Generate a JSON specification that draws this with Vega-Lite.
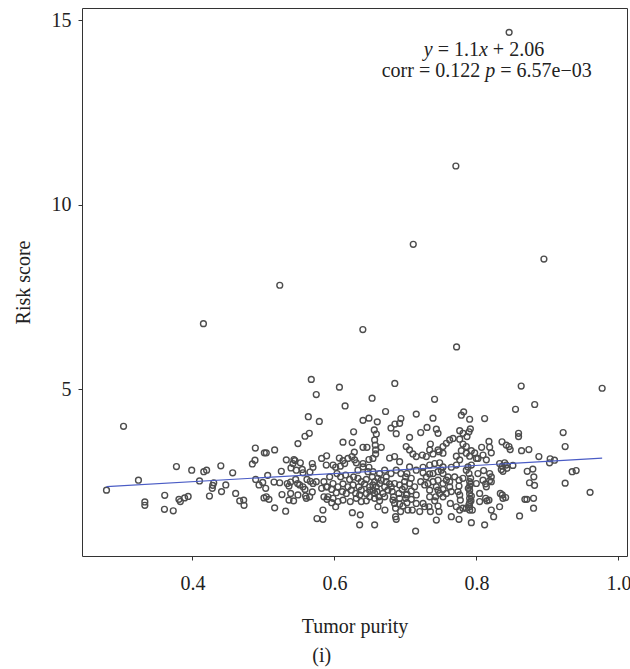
{
  "$schema": "https://vega.github.io/schema/vega-lite/v6.json",
  "width": 545,
  "height": 548,
  "autosize": {"type": "none"},
  "padding": {"left": 82, "top": 8, "right": 3, "bottom": 113},
  "background": "white",
  "config": {
    "view": {"stroke": "#333333", "strokeWidth": 1},
    "axis": {
      "labelFont": "Liberation Serif",
      "labelFontSize": 20,
      "labelColor": "#222222",
      "titleFont": "Liberation Serif",
      "titleFontSize": 20,
      "titleFontWeight": "normal",
      "titleColor": "#222222",
      "domain": false,
      "grid": false,
      "tickColor": "#333333",
      "tickSize": 4,
      "tickWidth": 1
    },
    "text": {"font": "Liberation Serif", "fontSize": 20, "color": "#222222"}
  },
  "datasets": {
    "pts": [
      {"purity":0.846,"risk":14.67},{"purity":0.771,"risk":11.05},{"purity":0.711,"risk":8.93},{"purity":0.895,"risk":8.53},{"purity":0.523,"risk":7.82},{"purity":0.4155,"risk":6.78},{"purity":0.640,"risk":6.62},{"purity":0.772,"risk":6.15},{"purity":0.977,"risk":5.03},{"purity":0.863,"risk":5.09},{"purity":0.685,"risk":5.16},{"purity":0.882,"risk":4.59},{"purity":0.855,"risk":4.46},{"purity":0.653,"risk":4.76},{"purity":0.741,"risk":4.73},{"purity":0.615,"risk":4.55},{"purity":0.607,"risk":5.06},
      {"purity":0.279,"risk":2.27},{"purity":0.303,"risk":4.0},{"purity":0.324,"risk":2.54},{"purity":0.333,"risk":1.95},{"purity":0.333,"risk":1.86},{"purity":0.361,"risk":2.13},{"purity":0.3606,"risk":1.75},{"purity":0.373,"risk":1.71},{"purity":0.3775,"risk":2.91},{"purity":0.381,"risk":2.02},{"purity":0.383,"risk":1.96},{"purity":0.389,"risk":2.06},{"purity":0.394,"risk":2.10},{"purity":0.399,"risk":2.81},{"purity":0.410,"risk":2.52},{"purity":0.416,"risk":2.77},{"purity":0.420,"risk":2.81},{"purity":0.424,"risk":2.11},{"purity":0.428,"risk":2.32},{"purity":0.4286,"risk":2.40},{"purity":0.430,"risk":2.47},{"purity":0.440,"risk":2.93},{"purity":0.441,"risk":2.23},{"purity":0.447,"risk":2.41},
      {"purity":0.5674,"risk":5.27},{"purity":0.5744,"risk":4.86},{"purity":0.5632,"risk":4.26},{"purity":0.5787,"risk":4.13},{"purity":0.5585,"risk":3.73},{"purity":0.5646,"risk":3.81},{"purity":0.5486,"risk":3.53},{"purity":0.4886,"risk":3.41},{"purity":0.5013,"risk":3.28},{"purity":0.504,"risk":3.28},{"purity":0.5158,"risk":3.36},{"purity":0.4844,"risk":2.98},{"purity":0.4881,"risk":3.08},{"purity":0.4567,"risk":2.74},{"purity":0.5322,"risk":3.09},{"purity":0.543,"risk":3.10},{"purity":0.5444,"risk":3.07},{"purity":0.5416,"risk":2.99},{"purity":0.552,"risk":3.01},{"purity":0.5388,"risk":2.87},{"purity":0.5547,"risk":2.83},{"purity":0.5557,"risk":2.74},{"purity":0.5688,"risk":2.99},{"purity":0.5698,"risk":2.89},{"purity":0.5655,"risk":2.76},{"purity":0.582,"risk":3.13},{"purity":0.589,"risk":3.20},{"purity":0.5885,"risk":2.95},{"purity":0.5252,"risk":2.78},{"purity":0.506,"risk":2.67},{"purity":0.4891,"risk":2.56},{"purity":0.499,"risk":2.48},{"purity":0.4938,"risk":2.41},{"purity":0.5149,"risk":2.49},{"purity":0.5229,"risk":2.47},{"purity":0.5336,"risk":2.45},{"purity":0.5383,"risk":2.49},{"purity":0.536,"risk":2.38},{"purity":0.5454,"risk":2.56},{"purity":0.5482,"risk":2.45},{"purity":0.551,"risk":2.41},{"purity":0.5613,"risk":2.56},{"purity":0.566,"risk":2.51},{"purity":0.5698,"risk":2.45},{"purity":0.5852,"risk":2.50},{"purity":0.5899,"risk":2.36},{"purity":0.4609,"risk":2.18},{"purity":0.4666,"risk":1.98},{"purity":0.4722,"risk":2.0},{"purity":0.4727,"risk":1.86},{"purity":0.5032,"risk":2.32},{"purity":0.5041,"risk":2.09},{"purity":0.5078,"risk":2.02},{"purity":0.5008,"risk":2.06},{"purity":0.5158,"risk":1.79},{"purity":0.5261,"risk":2.15},{"purity":0.5313,"risk":1.70},{"purity":0.5383,"risk":2.18},{"purity":0.536,"risk":2.0},{"purity":0.5425,"risk":1.98},{"purity":0.5486,"risk":2.14},{"purity":0.5594,"risk":2.11},{"purity":0.5604,"risk":2.05},{"purity":0.5585,"risk":2.29},{"purity":0.5688,"risk":2.22},{"purity":0.582,"risk":2.32},{"purity":0.5852,"risk":2.09},{"purity":0.5895,"risk":2.02},{"purity":0.5838,"risk":1.73},{"purity":0.5754,"risk":1.50},{"purity":0.5838,"risk":1.48},
      {"purity":0.5463,"risk":2.81},{"purity":0.5557,"risk":2.36},{"purity":0.5744,"risk":2.50},{"purity":0.5651,"risk":2.09},
      {"purity":0.672,"risk":4.40},{"purity":0.6402,"risk":4.16},{"purity":0.6486,"risk":4.22},{"purity":0.6603,"risk":4.12},{"purity":0.6796,"risk":3.95},{"purity":0.6852,"risk":4.06},{"purity":0.6918,"risk":4.08},{"purity":0.6936,"risk":4.21},{"purity":0.687,"risk":3.80},{"purity":0.627,"risk":3.85},{"purity":0.6561,"risk":3.90},{"purity":0.659,"risk":3.79},{"purity":0.7152,"risk":4.33},{"purity":0.7058,"risk":3.70},{"purity":0.612,"risk":3.57},{"purity":0.625,"risk":3.56},{"purity":0.6402,"risk":3.43},{"purity":0.6458,"risk":3.43},{"purity":0.6566,"risk":3.63},{"purity":0.6575,"risk":3.49},{"purity":0.658,"risk":3.36},{"purity":0.658,"risk":3.25},{"purity":0.666,"risk":3.43},{"purity":0.628,"risk":3.30},{"purity":0.6247,"risk":3.18},{"purity":0.6284,"risk":3.09},{"purity":0.6308,"risk":3.01},{"purity":0.6069,"risk":3.14},{"purity":0.612,"risk":3.07},{"purity":0.619,"risk":3.13},{"purity":0.598,"risk":2.95},{"purity":0.6017,"risk":2.89},{"purity":0.6083,"risk":2.92},{"purity":0.6144,"risk":2.99},{"purity":0.6402,"risk":2.99},{"purity":0.6486,"risk":3.10},{"purity":0.6542,"risk":3.13},{"purity":0.6402,"risk":2.90},{"purity":0.6486,"risk":2.89},{"purity":0.6777,"risk":3.14},{"purity":0.6847,"risk":3.18},{"purity":0.6918,"risk":3.04},{"purity":0.7011,"risk":3.45},{"purity":0.7058,"risk":3.36},{"purity":0.7105,"risk":3.25},{"purity":0.7152,"risk":3.18},{"purity":0.6707,"risk":2.81},{"purity":0.673,"risk":2.63},{"purity":0.6796,"risk":2.72},{"purity":0.687,"risk":2.81},{"purity":0.6936,"risk":2.72},{"purity":0.7002,"risk":2.63},{"purity":0.7058,"risk":2.90},{"purity":0.7152,"risk":2.81},{"purity":0.6036,"risk":2.72},{"purity":0.6087,"risk":2.63},{"purity":0.6158,"risk":2.68},{"purity":0.6214,"risk":2.56},{"purity":0.627,"risk":2.63},{"purity":0.6331,"risk":2.59},{"purity":0.6378,"risk":2.50},{"purity":0.6449,"risk":2.56},{"purity":0.6533,"risk":2.63},{"purity":0.6566,"risk":2.50},{"purity":0.6613,"risk":2.59},{"purity":0.666,"risk":2.54},{"purity":0.598,"risk":2.45},{"purity":0.605,"risk":2.36},{"purity":0.612,"risk":2.44},{"purity":0.619,"risk":2.36},{"purity":0.6261,"risk":2.41},{"purity":0.6345,"risk":2.36},{"purity":0.6425,"risk":2.44},{"purity":0.6496,"risk":2.36},{"purity":0.6542,"risk":2.41},{"purity":0.6589,"risk":2.36},{"purity":0.6636,"risk":2.45},{"purity":0.6707,"risk":2.36},{"purity":0.6777,"risk":2.44},{"purity":0.6847,"risk":2.45},{"purity":0.6918,"risk":2.41},{"purity":0.6988,"risk":2.36},{"purity":0.7058,"risk":2.45},{"purity":0.7129,"risk":2.36},{"purity":0.5961,"risk":2.29},{"purity":0.6026,"risk":2.20},{"purity":0.6111,"risk":2.23},{"purity":0.6167,"risk":2.18},{"purity":0.6238,"risk":2.27},{"purity":0.6299,"risk":2.18},{"purity":0.6378,"risk":2.27},{"purity":0.6449,"risk":2.18},{"purity":0.6496,"risk":2.26},{"purity":0.6566,"risk":2.18},{"purity":0.6627,"risk":2.09},{"purity":0.6683,"risk":2.18},{"purity":0.6753,"risk":2.27},{"purity":0.6814,"risk":2.23},{"purity":0.6833,"risk":2.09},{"purity":0.6908,"risk":2.18},{"purity":0.6955,"risk":2.29},{"purity":0.7021,"risk":2.16},{"purity":0.7082,"risk":2.25},{"purity":0.7152,"risk":2.14},{"purity":0.598,"risk":2.05},{"purity":0.605,"risk":1.96},{"purity":0.612,"risk":2.0},{"purity":0.6223,"risk":1.96},{"purity":0.6308,"risk":2.05},{"purity":0.6378,"risk":1.96},{"purity":0.6449,"risk":1.98},{"purity":0.6566,"risk":2.05},{"purity":0.6636,"risk":1.98},{"purity":0.6707,"risk":2.09},{"purity":0.6824,"risk":2.0},{"purity":0.6847,"risk":1.91},{"purity":0.6861,"risk":1.78},{"purity":0.687,"risk":1.48},{"purity":0.6861,"risk":1.55},{"purity":0.6918,"risk":1.89},{"purity":0.6964,"risk":1.84},{"purity":0.7021,"risk":1.93},{"purity":0.7082,"risk":2.02},{"purity":0.7152,"risk":1.91},{"purity":0.7096,"risk":1.73},{"purity":0.6017,"risk":1.82},{"purity":0.5961,"risk":1.93},{"purity":0.6252,"risk":1.66},{"purity":0.6364,"risk":1.60},{"purity":0.6355,"risk":1.33},{"purity":0.6566,"risk":1.33},{"purity":0.6613,"risk":1.82},{"purity":0.6711,"risk":1.73},{"purity":0.6932,"risk":1.69},{"purity":0.7035,"risk":1.73},{"purity":0.7143,"risk":1.16},{"purity":0.7011,"risk":2.14},
      {"purity":0.6331,"risk":2.81},{"purity":0.6472,"risk":2.77},{"purity":0.6542,"risk":2.77},{"purity":0.6636,"risk":2.72},{"purity":0.6355,"risk":2.14},{"purity":0.6496,"risk":2.09},{"purity":0.6599,"risk":2.23},{"purity":0.6542,"risk":2.27},{"purity":0.673,"risk":2.50},{"purity":0.6801,"risk":2.36},{"purity":0.7021,"risk":2.72},{"purity":0.7082,"risk":2.59},{"purity":0.6988,"risk":2.50},{"purity":0.6918,"risk":2.05},{"purity":0.7002,"risk":2.05},{"purity":0.5933,"risk":2.63},{"purity":0.5886,"risk":2.36},{"purity":0.5909,"risk":2.09},
      {"purity":0.7388,"risk":4.22},{"purity":0.7787,"risk":4.30},{"purity":0.782,"risk":4.39},{"purity":0.7904,"risk":4.19},{"purity":0.8115,"risk":4.21},{"purity":0.7304,"risk":3.97},{"purity":0.7435,"risk":3.92},{"purity":0.7459,"risk":3.81},{"purity":0.7215,"risk":3.83},{"purity":0.7351,"risk":3.52},{"purity":0.7341,"risk":3.36},{"purity":0.7459,"risk":3.36},{"purity":0.7529,"risk":3.45},{"purity":0.7576,"risk":3.54},{"purity":0.7623,"risk":3.63},{"purity":0.767,"risk":3.67},{"purity":0.7764,"risk":3.88},{"purity":0.781,"risk":3.81},{"purity":0.7867,"risk":3.72},{"purity":0.7914,"risk":3.93},{"purity":0.7895,"risk":3.85},{"purity":0.7764,"risk":3.65},{"purity":0.781,"risk":3.52},{"purity":0.7857,"risk":3.45},{"purity":0.7928,"risk":3.34},{"purity":0.7975,"risk":3.28},{"purity":0.7998,"risk":3.13},{"purity":0.8073,"risk":3.43},{"purity":0.8176,"risk":3.59},{"purity":0.8186,"risk":3.43},{"purity":0.8209,"risk":3.28},{"purity":0.836,"risk":3.58},{"purity":0.842,"risk":3.49},{"purity":0.8458,"risk":3.45},{"purity":0.7238,"risk":3.22},{"purity":0.7294,"risk":3.18},{"purity":0.7388,"risk":3.25},{"purity":0.7473,"risk":3.31},{"purity":0.7529,"risk":3.27},{"purity":0.7717,"risk":3.19},{"purity":0.7787,"risk":3.34},{"purity":0.7857,"risk":3.27},{"purity":0.7904,"risk":3.19},{"purity":0.8021,"risk":3.13},{"purity":0.8092,"risk":3.22},{"purity":0.8139,"risk":3.09},{"purity":0.7764,"risk":3.09},{"purity":0.7248,"risk":2.89},{"purity":0.7341,"risk":2.95},{"purity":0.7412,"risk":2.99},{"purity":0.7482,"risk":3.01},{"purity":0.7529,"risk":2.90},{"purity":0.7646,"risk":2.89},{"purity":0.7717,"risk":2.95},{"purity":0.7881,"risk":2.90},{"purity":0.7928,"risk":2.95},{"purity":0.8101,"risk":2.80},{"purity":0.8186,"risk":2.72},{"purity":0.8209,"risk":2.63},{"purity":0.8326,"risk":2.99},{"purity":0.8364,"risk":2.92},{"purity":0.8397,"risk":3.01},{"purity":0.842,"risk":2.95},{"purity":0.835,"risk":2.83},{"purity":0.8373,"risk":2.78},{"purity":0.8429,"risk":2.86},{"purity":0.7248,"risk":2.74},{"purity":0.7294,"risk":2.63},{"purity":0.7341,"risk":2.71},{"purity":0.7388,"risk":2.72},{"purity":0.7459,"risk":2.77},{"purity":0.7506,"risk":2.81},{"purity":0.7215,"risk":2.50},{"purity":0.7271,"risk":2.41},{"purity":0.7318,"risk":2.45},{"purity":0.7388,"risk":2.50},{"purity":0.7459,"risk":2.54},{"purity":0.7529,"risk":2.45},{"purity":0.7576,"risk":2.54},{"purity":0.7435,"risk":2.36},{"purity":0.7459,"risk":2.27},{"purity":0.7482,"risk":2.18},{"purity":0.7426,"risk":2.09},{"purity":0.7693,"risk":2.63},{"purity":0.7754,"risk":2.54},{"purity":0.781,"risk":2.59},{"purity":0.7857,"risk":2.81},{"purity":0.7895,"risk":2.72},{"purity":0.7918,"risk":2.59},
      {"purity":0.7904,"risk":2.50},{"purity":0.7904,"risk":2.38},{"purity":0.7904,"risk":2.27},{"purity":0.7904,"risk":2.17},{"purity":0.7904,"risk":2.05},{"purity":0.7904,"risk":1.93},{"purity":0.7904,"risk":1.82},{"purity":0.7904,"risk":1.73},{"purity":0.7918,"risk":2.44},{"purity":0.7885,"risk":2.32},{"purity":0.7928,"risk":2.11},{"purity":0.7923,"risk":1.98},{"purity":0.7895,"risk":1.88},
      {"purity":0.7754,"risk":2.38},{"purity":0.774,"risk":2.23},{"purity":0.7764,"risk":2.14},{"purity":0.7773,"risk":2.0},{"purity":0.8092,"risk":2.54},{"purity":0.8129,"risk":2.44},{"purity":0.8186,"risk":2.53},{"purity":0.8209,"risk":2.50},{"purity":0.8045,"risk":2.18},{"purity":0.8129,"risk":2.05},{"purity":0.8176,"risk":2.0},{"purity":0.8148,"risk":1.98},{"purity":0.8336,"risk":2.18},{"purity":0.8364,"risk":2.14},{"purity":0.8411,"risk":2.07},{"purity":0.8373,"risk":2.05},{"purity":0.7529,"risk":2.29},{"purity":0.7576,"risk":2.18},{"purity":0.7623,"risk":2.36},{"purity":0.7646,"risk":2.23},{"purity":0.7412,"risk":1.98},{"purity":0.7459,"risk":1.84},{"purity":0.7473,"risk":1.69},{"purity":0.7435,"risk":1.46},{"purity":0.7248,"risk":1.91},{"purity":0.7271,"risk":1.82},{"purity":0.7201,"risk":1.69},{"purity":0.7332,"risk":1.82},{"purity":0.7351,"risk":1.69},{"purity":0.7632,"risk":1.91},{"purity":0.7717,"risk":1.82},{"purity":0.7764,"risk":1.73},{"purity":0.781,"risk":1.78},{"purity":0.7646,"risk":1.55},{"purity":0.7754,"risk":1.48},{"purity":0.7857,"risk":1.78},{"purity":0.7942,"risk":1.73},{"purity":0.7928,"risk":1.39},{"purity":0.8115,"risk":1.33},{"purity":0.8209,"risk":1.73},{"purity":0.8242,"risk":1.55},{"purity":0.8326,"risk":1.82},
      {"purity":0.7341,"risk":2.27},{"purity":0.7529,"risk":2.72},{"purity":0.7599,"risk":2.63},{"purity":0.7623,"risk":2.50},{"purity":0.7341,"risk":2.09},{"purity":0.7529,"risk":2.09},{"purity":0.8021,"risk":2.72},{"purity":0.7998,"risk":2.45},{"purity":0.8045,"risk":1.96},{"purity":0.8139,"risk":2.36},
      {"purity":0.8593,"risk":3.81},{"purity":0.8593,"risk":3.72},{"purity":0.8475,"risk":3.37},{"purity":0.8635,"risk":3.34},{"purity":0.8738,"risk":3.37},{"purity":0.8879,"risk":3.18},{"purity":0.9038,"risk":3.12},{"purity":0.9099,"risk":3.08},{"purity":0.9029,"risk":3.01},{"purity":0.9221,"risk":3.83},{"purity":0.9249,"risk":3.45},{"purity":0.8513,"risk":2.94},{"purity":0.8715,"risk":2.78},{"purity":0.8794,"risk":2.84},{"purity":0.8808,"risk":2.63},{"purity":0.8747,"risk":2.47},{"purity":0.8818,"risk":2.40},{"purity":0.9348,"risk":2.77},{"purity":0.9404,"risk":2.80},{"purity":0.9249,"risk":2.46},{"purity":0.96,"risk":2.21},{"purity":0.8682,"risk":2.02},{"purity":0.871,"risk":2.02},{"purity":0.8804,"risk":2.05},{"purity":0.8804,"risk":1.78},{"purity":0.8607,"risk":1.57}
    ],
    "fit": [
      {"purity": 0.279, "risk": 2.367},
      {"purity": 0.977, "risk": 3.135}
    ]
  },
  "layer": [
    {
      "data": {"name": "pts"},
      "mark": {"type": "point", "shape": "circle", "filled": false, "size": 34, "strokeWidth": 1.4, "color": "#4d4d4d", "opacity": 1},
      "encoding": {
        "x": {
          "field": "purity", "type": "quantitative",
          "scale": {"domain": [0.2445, 1.012], "nice": false, "zero": false},
          "axis": {"title": "Tumor purity", "values": [0.4, 0.6, 0.8, 1.0], "format": ".1f", "labelPadding": 13, "titlePadding": 23}
        },
        "y": {
          "field": "risk", "type": "quantitative",
          "scale": {"domain": [0.486, 15.33], "nice": false, "zero": false},
          "axis": {"title": "Risk score", "values": [5, 10, 15], "labelPadding": 7, "titlePadding": 18}
        }
      }
    },
    {
      "data": {"name": "fit"},
      "mark": {"type": "line", "color": "#4a5cc5", "strokeWidth": 1.2},
      "encoding": {
        "x": {"field": "purity", "type": "quantitative"},
        "y": {"field": "risk", "type": "quantitative"}
      }
    },
    {
      "data": {"values": [{}]},
      "mark": {"type": "text", "text": "y", "fontStyle": "italic", "align": "left", "baseline": "middle", "dx": 0},
      "encoding": {"x": {"datum": 0.7258, "type": "quantitative"}, "y": {"datum": 14.19, "type": "quantitative"}}
    },
    {
      "data": {"values": [{}]},
      "mark": {"type": "text", "text": "= 1.1", "align": "left", "baseline": "middle", "dx": 13.9},
      "encoding": {"x": {"datum": 0.7258, "type": "quantitative"}, "y": {"datum": 14.19, "type": "quantitative"}}
    },
    {
      "data": {"values": [{}]},
      "mark": {"type": "text", "text": "x", "fontStyle": "italic", "align": "left", "baseline": "middle", "dx": 55.2},
      "encoding": {"x": {"datum": 0.7258, "type": "quantitative"}, "y": {"datum": 14.19, "type": "quantitative"}}
    },
    {
      "data": {"values": [{}]},
      "mark": {"type": "text", "text": "+ 2.06", "align": "left", "baseline": "middle", "dx": 69.1},
      "encoding": {"x": {"datum": 0.7258, "type": "quantitative"}, "y": {"datum": 14.19, "type": "quantitative"}}
    },
    {
      "data": {"values": [{}]},
      "mark": {"type": "text", "text": "corr = 0.122", "align": "left", "baseline": "middle", "dx": 0},
      "encoding": {"x": {"datum": 0.6666, "type": "quantitative"}, "y": {"datum": 13.62, "type": "quantitative"}}
    },
    {
      "data": {"values": [{}]},
      "mark": {"type": "text", "text": "p", "fontStyle": "italic", "align": "left", "baseline": "middle", "dx": 103.5},
      "encoding": {"x": {"datum": 0.6666, "type": "quantitative"}, "y": {"datum": 13.62, "type": "quantitative"}}
    },
    {
      "data": {"values": [{}]},
      "mark": {"type": "text", "text": "= 6.57e\u221203", "align": "left", "baseline": "middle", "dx": 118.5},
      "encoding": {"x": {"datum": 0.6666, "type": "quantitative"}, "y": {"datum": 13.62, "type": "quantitative"}}
    },
    {
      "data": {"values": [{}]},
      "mark": {"type": "text", "text": "(i)", "align": "center", "baseline": "middle"},
      "encoding": {"x": {"datum": 0.582, "type": "quantitative"}, "y": {"datum": -2.22, "type": "quantitative"}}
    }
  ]
}
